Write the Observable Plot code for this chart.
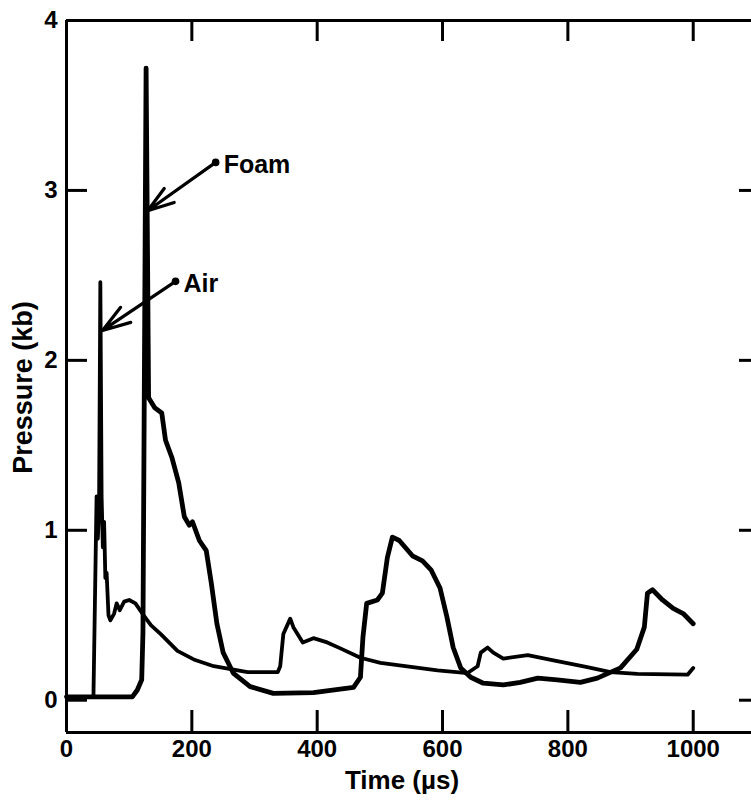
<!DOCTYPE html>
<html><head><meta charset="utf-8">
<script src="https://cdn.jsdelivr.net/npm/d3@7"></script>
<script src="https://cdn.jsdelivr.net/npm/@observablehq/plot@0.6"></script>
<style>body{margin:0;background:#fff} svg{display:block}</style>
</head><body><div id="chart"></div>
<script>
// ---- data ----
const airTime     = [0, 43, 48, 50, 52, 54, 56, 58, 60, 62, 64, 67, 70, 76, 80, 85, 92, 100, 110, 121, 135, 150, 177, 203, 235, 289, 337, 341, 346, 357, 362, 377, 394, 416, 437, 469, 501, 592, 640, 656, 661, 672, 681, 697, 736, 777, 831, 868, 911, 991, 1000];
const airPressure = [0.02, 0.02, 1.2, 0.95, 1.15, 2.46, 1.2, 0.9, 1.05, 0.72, 0.75, 0.5, 0.47, 0.51, 0.57, 0.53, 0.58, 0.59, 0.57, 0.51, 0.44, 0.39, 0.29, 0.24, 0.2, 0.165, 0.165, 0.2, 0.39, 0.48, 0.43, 0.34, 0.365, 0.34, 0.305, 0.25, 0.22, 0.175, 0.16, 0.2, 0.28, 0.31, 0.28, 0.245, 0.265, 0.235, 0.195, 0.165, 0.155, 0.15, 0.19];

const foamTime     = [0, 105, 113, 120, 122, 127, 131, 141, 152, 158, 168, 179, 188, 196, 201, 212, 223, 231, 240, 250, 266, 293, 330, 394, 458, 469, 473, 479, 496, 504, 512, 520, 531, 552, 568, 582, 596, 607, 617, 629, 645, 665, 697, 724, 752, 783, 820, 847, 884, 910, 922, 927, 935, 951, 968, 984, 1000];
const foamPressure = [0.02, 0.02, 0.06, 0.12, 0.4, 3.72, 1.78, 1.72, 1.69, 1.53, 1.43, 1.28, 1.08, 1.03, 1.05, 0.94, 0.88, 0.69, 0.45, 0.28, 0.16, 0.08, 0.04, 0.045, 0.075, 0.135, 0.37, 0.57, 0.59, 0.63, 0.84, 0.96, 0.94, 0.85, 0.82, 0.765, 0.66, 0.49, 0.31, 0.19, 0.135, 0.1, 0.09, 0.105, 0.13, 0.12, 0.105, 0.13, 0.19, 0.3, 0.43, 0.63, 0.65, 0.59, 0.54, 0.51, 0.45];

const xTickLabels = [0, 200, 400, 600, 800, 1000];
const xTickMarks  = [200, 400, 600, 800, 1000];
const yTickLabels = [0, 1, 2, 3, 4];
const yTickMarks  = [0, 1, 2, 3];
const xDomain = [0, 1093];
const yDomain = [-0.19, 4];

const noteLabels   = ["Foam", "Air"];
const noteTime     = [238, 174];
const notePressure = [3.165, 2.465];
const tipTime      = [129.5, 57.5];
const tipPressure  = [2.88, 2.176];

const xTitle = "Time (µs)";
const yTitle = "Pressure (kb)";

// ---- build tables ----
const air  = airTime.map((t, i) => ({time: t, pressure: airPressure[i]}));
const foam = foamTime.map((t, i) => ({time: t, pressure: foamPressure[i]}));
const notes = noteLabels.map((s, i) => ({label: s, x: noteTime[i], y: notePressure[i], tx: tipTime[i], ty: tipPressure[i]}));

// ---- layout ----
const W = 751, H = 802, mT = 20, mB = 70, mL = 66, mR = 0;
const frameW = W - mL - mR, frameH = H - mT - mB;
const font = "'Liberation Sans', Arial, sans-serif";
const tk = {stroke: "#000", strokeWidth: 3};

const chart = Plot.plot({
  width: W,
  height: H,
  marginTop: mT,
  marginBottom: mB,
  marginLeft: mL,
  marginRight: mR,
  style: {fontFamily: font, background: "#fff", color: "#000"},
  x: {domain: xDomain, axis: null},
  y: {domain: yDomain, axis: null},
  marks: [
    // frame (left, top, bottom)
    Plot.ruleX([xDomain[0]], {stroke: "#000", strokeWidth: 3}),
    Plot.ruleY([yDomain[0]], {stroke: "#000", strokeWidth: 3}),
    Plot.ruleY([yDomain[1]], {stroke: "#000", strokeWidth: 3}),
    // inward ticks
    Plot.ruleX(xTickMarks, {x: d => d, insetTop: frameH - 22, ...tk}),
    Plot.ruleX(xTickMarks, {x: d => d, insetBottom: frameH - 21, ...tk}),
    Plot.ruleY(yTickMarks, {y: d => d, insetRight: frameW - 21, ...tk}),
    Plot.ruleY(yTickMarks, {y: d => d, insetLeft: frameW - 12, ...tk}),
    // tick labels
    Plot.text(xTickLabels, {x: d => d, frameAnchor: "bottom", dy: 24, textAnchor: "middle", text: d => String(d), fontSize: 24, fontWeight: "bold", fill: "#000"}),
    Plot.text(yTickLabels, {y: d => d, frameAnchor: "left", dx: -9, textAnchor: "end", text: d => String(d), fontSize: 24, fontWeight: "bold", fill: "#000"}),
    // axis titles
    Plot.text([xTitle], {frameAnchor: "bottom", dx: -7, dy: 56, textAnchor: "middle", text: d => d, fontSize: 26, fontWeight: "bold", fill: "#000"}),
    Plot.text([yTitle], {frameAnchor: "left", dx: -43, dy: 11, rotate: -90, textAnchor: "middle", text: d => d, fontSize: 27, fontWeight: "bold", fill: "#000"}),
    // series
    Plot.line(air,  {x: "time", y: "pressure", stroke: "#000", strokeWidth: 3.8, strokeLinejoin: "round", strokeLinecap: "round"}),
    Plot.line(foam, {x: "time", y: "pressure", stroke: "#000", strokeWidth: 4.8, strokeLinejoin: "round", strokeLinecap: "round"}),
    // annotations
    Plot.arrow(notes, {x1: "x", y1: "y", x2: "tx", y2: "ty", stroke: "#000", strokeWidth: 3.2, headLength: 16, headAngle: 36}),
    Plot.dot(notes, {x: "x", y: "y", r: 3.8, fill: "#000"}),
    Plot.text(notes, {x: "x", y: "y", text: "label", dx: 8, dy: 3, textAnchor: "start", fontSize: 25, fontWeight: "bold", fill: "#000"})
  ]
});
document.getElementById("chart").appendChild(chart);
</script>
</body></html>
